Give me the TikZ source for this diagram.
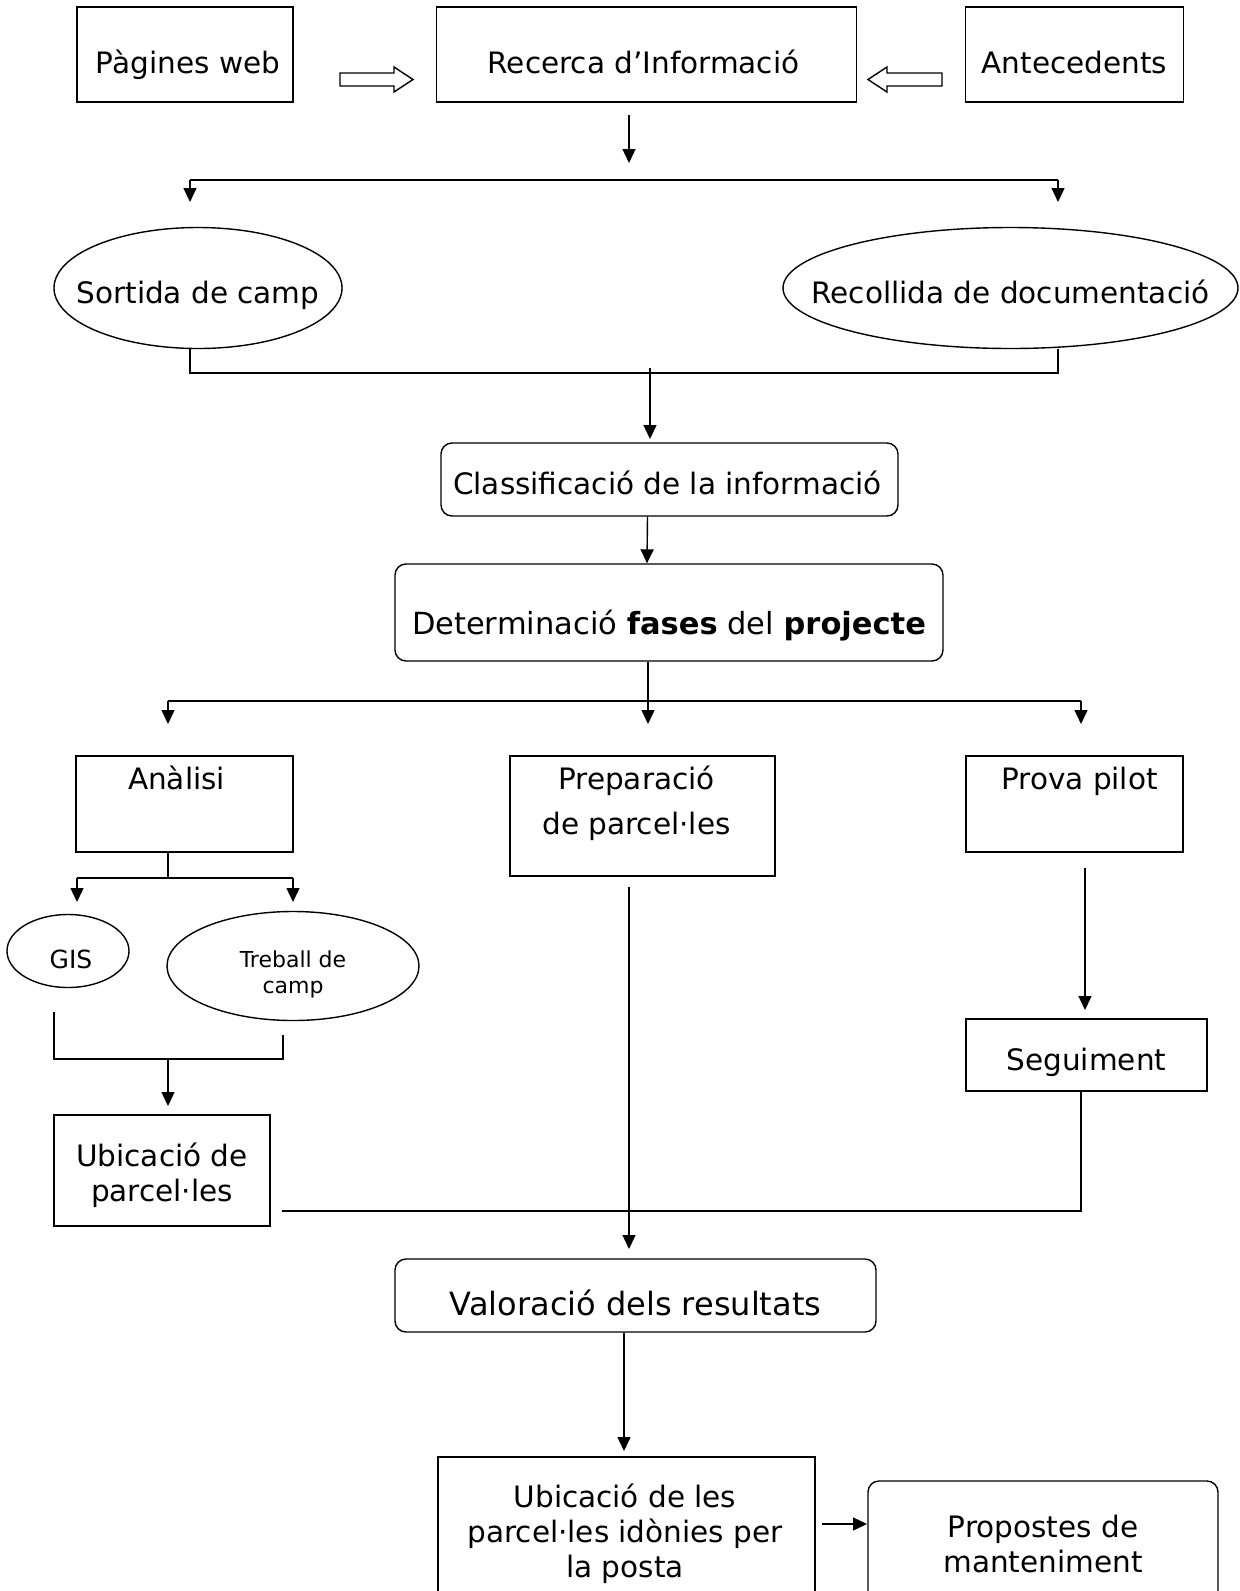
\documentclass[tikz,border=0pt]{standalone}
\usepackage{fontspec}
\setmainfont{DejaVu Sans}
\usetikzlibrary{arrows.meta,positioning,shapes.geometric}

\begin{document}
\begin{tikzpicture}[x=1pt,y=-1pt,
    box/.style={draw, line width=1.4pt, inner sep=0pt},
    rbox/.style={box, rounded corners=11pt},
    oval/.style={box, ellipse},
    lbl/.style={inner sep=0pt, align=center, font=\fontsize{29.5}{35}\selectfont},
    link/.style={line width=1.4pt},
    arr/.style={line width=1.4pt, -{Triangle[length=14pt,width=13pt]}},
    hollow/.style={line width=1.4pt, fill=white, line join=miter}]
\useasboundingbox (0,0) rectangle (1240,1591);

    % fonts d'informacio
    \node[box, minimum width=216pt, minimum height=95pt] (web) at (185,54.5) {};
    \node[box, minimum width=420pt, minimum height=95pt] (recerca) at (646.5,54.5) {};
    \node[box, minimum width=218pt, minimum height=95pt] (antec) at (1074.5,54.5) {};
    \node[lbl, anchor=base] at ([xshift=3pt,yshift=-18.5pt]web.center) {Pàgines web};
    \node[lbl, anchor=base] at ([xshift=-3pt,yshift=-18.5pt]recerca.center) {Recerca d’Informació};
    \node[lbl, anchor=base] at ([yshift=-18.5pt]antec.center) {Antecedents};
    \draw[hollow] (340,73) -- (394,73) -- (394,67) -- (413,79.5) -- (394,92) -- (394,86) -- (340,86) -- cycle;
    \draw[hollow] (942,73) -- (887,73) -- (887,67) -- (868,79.5) -- (887,92) -- (887,86) -- (942,86) -- cycle;

    \coordinate (b1l) at (190,180);
    \coordinate (b1r) at (1058,180);
    \draw[arr] (629,115) -- (629,163);
    \draw[link] (b1l) -- (b1r);
    \draw[arr] (b1l) -- ++(0,22);
    \draw[arr] (b1r) -- ++(0,22);

    \node[oval, minimum width=288pt, minimum height=121pt] (sortida) at (198,288) {};
    \node[oval, minimum width=455pt, minimum height=121pt] (recollida) at (1010.5,288) {};
    \node[lbl, anchor=base] at ([yshift=-15pt]sortida.center) {Sortida de camp};
    \node[lbl, anchor=base] at ([yshift=-15pt]recollida.center) {Recollida de documentació};
    \draw[link] ([xshift=-8pt]sortida.south) |- (1058,373) -- ([xshift=47.5pt]recollida.south);
    \draw[arr] (650,368) -- (650,439);

    \node[rbox, minimum width=457pt, minimum height=73pt] (classif) at (669.5,479.5) {};
    \node[lbl, anchor=base] at ([xshift=-2pt,yshift=-14.5pt]classif.center) {Classificació de la informació};
    \node[rbox, minimum width=548pt, minimum height=97pt] (fases) at (669,612.5) {};
    \node[lbl, anchor=base, font=\fontsize{30.5}{36}\selectfont] at ([yshift=-21.5pt]fases.center)
        {Determinació \textbf{fases} del \textbf{projecte}};
    \draw[arr] ([xshift=-22pt]classif.south) -- ([xshift=-22pt]fases.north);

    % fases del projecte
    \coordinate (b2l) at (168,701);
    \coordinate (b2r) at (1081,701);
    \draw[link] (b2l) -- (b2r);
    \draw[arr] ([xshift=-21pt]fases.south) -- (648,724);
    \draw[arr] (b2l) -- ++(0,23);
    \draw[arr] (b2r) -- ++(0,23);

    \node[box, minimum width=217pt, minimum height=96pt] (analisi) at (184.5,804) {};
    \node[lbl, anchor=base] at ([xshift=-8pt,yshift=15pt]analisi.center) {Anàlisi};
    \node[box, minimum width=265pt, minimum height=120pt] (prep) at (642.5,816) {};
    \node[lbl, font=\fontsize{29.5}{45}\selectfont] at ([xshift=-6pt,yshift=12.5pt]prep.center) {Preparació\\de parcel·les};
    \node[box, minimum width=217pt, minimum height=96pt] (prova) at (1074.5,804) {};
    \node[lbl, anchor=base] at ([xshift=5pt,yshift=15pt]prova.center) {Prova pilot};

    % analisi
    \coordinate (b3l) at (77,878);
    \coordinate (b3r) at (293,878);
    \draw[link] ([xshift=-16.5pt]analisi.south) -- (168,878);
    \draw[link] (b3l) -- (b3r);
    \draw[arr] (b3l) -- ++(0,24);
    \draw[arr] (b3r) -- ++(0,24);
    \node[oval, minimum width=122pt, minimum height=73pt] (gis) at (68,951) {};
    \node[lbl, anchor=base, font=\fontsize{25}{30}\selectfont] at ([xshift=3pt,yshift=-17pt]gis.center) {GIS};
    \node[oval, minimum width=252pt, minimum height=109pt] (treball) at (293,966) {};
    \node[lbl, font=\fontsize{22}{26}\selectfont] at ([yshift=-8pt]treball.center) {Treball de\\camp};
    \draw[link] (54,1012) |- (283,1059) -- (283,1035);
    \draw[arr] (168,1059) -- (168,1106);
    \node[box, minimum width=216pt, minimum height=111pt] (ubic) at (162,1170.5) {};
    \node[lbl] at ([yshift=-4.5pt]ubic.center) {Ubicació de\\parcel·les};

    % prova pilot
    \draw[arr] (1085,868) -- (1085,1010);
    \node[box, minimum width=241pt, minimum height=72pt] (seguim) at (1086.5,1055) {};
    \node[lbl, anchor=base] at ([yshift=-15pt]seguim.center) {Seguiment};
    \draw[link] ([xshift=-5.5pt]seguim.south) |- (282,1211);
    \draw[arr] (629,887) -- (629,1249);

    % resultats
    \node[rbox, minimum width=481pt, minimum height=73pt] (valor) at (635.5,1295.5) {};
    \node[lbl, anchor=base, font=\fontsize{32}{38}\selectfont] at ([yshift=-20pt]valor.center) {Valoració dels resultats};
    \draw[arr] ([xshift=-11.5pt]valor.south) -- (624,1451);
    \node[box, minimum width=377pt, minimum height=153pt] (ubicles) at (626.5,1533.5) {};
    \node[lbl] at ([xshift=-1.5pt]ubicles.center) {Ubicació de les\\parcel·les idònies per\\la posta};
    \node[rbox, minimum width=350pt, minimum height=134pt] (propostes) at (1043,1548) {};
    \node[lbl] at ([yshift=4.5pt]propostes.center) {Propostes de\\manteniment};
    \draw[arr] (822,1524) -- (867,1524);

\end{tikzpicture}
\end{document}
